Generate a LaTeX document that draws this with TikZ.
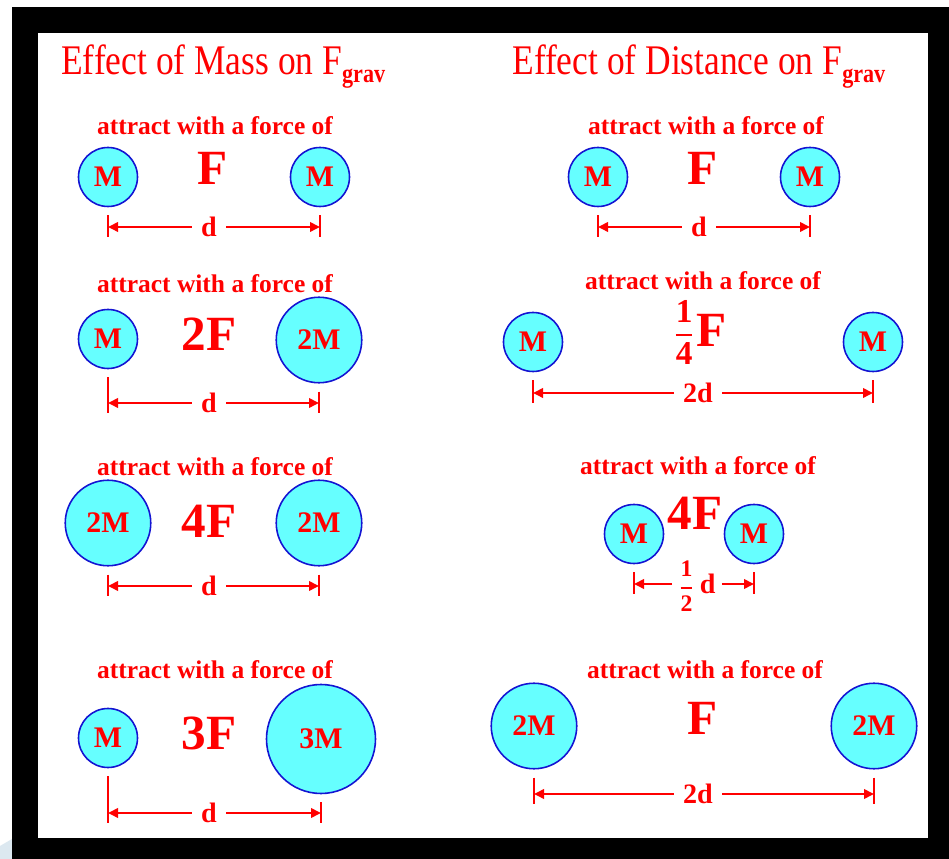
\documentclass[tikz,border=0pt]{standalone}
\usepackage{amsmath}
\usepackage{fontspec}
\setmainfont{Liberation Serif}
\usetikzlibrary{arrows.meta,calc}
\definecolor{massfill}{HTML}{66FFFF}
\definecolor{massedge}{HTML}{1414D2}
\definecolor{gravred}{HTML}{FF0000}
\definecolor{cornerblue}{HTML}{DCE8F0}
\begin{document}
\begin{tikzpicture}[x=0.2mm, y=-0.2mm,
  mass/.style={circle, draw=massedge, fill=massfill, line width=0.9pt, inner sep=0pt,
    text=gravred, font=\fontsize{17}{17}\selectfont\bfseries},
  small/.style={mass, minimum size=11.8mm},
  medium/.style={mass, minimum size=17.1mm},
  large/.style={mass, minimum size=21.8mm},
  force/.style={text=gravred, inner sep=0pt, font=\fontsize{28}{28}\selectfont\bfseries},
  attract/.style={text=gravred, inner sep=0pt, font=\fontsize{14.5}{14.5}\selectfont\bfseries},
  heading/.style={text=gravred, inner sep=0pt, anchor=base west, font=\fontsize{24}{24}\selectfont},
  dist/.style={text=gravred, anchor=base, inner ysep=0pt, inner xsep=1.8mm,
    font=\fontsize{16}{16}\selectfont\bfseries},
  dimline/.style={draw=gravred, line width=1.1pt, -{Triangle[length=2mm, width=1.9mm]}},
  tick/.style={draw=gravred, line width=1.1pt}
]
  \useasboundingbox (0,0) rectangle (949,859);
  % frame
  \fill[white] (0,0) rectangle (949,859);
  \fill[cornerblue] (0,846) -- (12,839) -- (12,859) -- (0,859) -- cycle;
  \fill[black] (12,7) rectangle (949,859);
  \fill[white] (38,33) rectangle (928,838);

  % headings
  \node[heading] (h1) at (61,75) {\scalebox{0.84}[1]{Effect of Mass on F\raisebox{-4pt}{\fontsize{15}{15}\selectfont\bfseries grav}}};
  \node[heading] (h2) at (512,75) {\scalebox{0.84}[1]{Effect of Distance on F\raisebox{-4pt}{\fontsize{15}{15}\selectfont\bfseries grav}}};

  % Effect of mass
  \node[attract] (a1) at (215,126) {attract with a force of};
  \node[small] (ma1) at (108,177) {M};
  \node[small] (mb1) at (320,177) {M};
  \node[force] (f1) at (213,168) {F};
  \node[dist] (d1) at (209,237) {d};

  \node[attract] (a2) at (215,284) {attract with a force of};
  \node[small] (ma2) at (108,339) {M};
  \node[medium] (mb2) at (319,340) {2M};
  \node[force] (f2) at (209,334) {2F};
  \node[dist] (d2) at (209,413) {d};

  \node[attract] (a3) at (215,467) {attract with a force of};
  \node[medium] (ma3) at (108,523) {2M};
  \node[medium] (mb3) at (319,523) {2M};
  \node[force] (f3) at (209,521) {4F};
  \node[dist] (d3) at (209,596) {d};

  \node[attract] (a4) at (215,670) {attract with a force of};
  \node[small] (ma4) at (108,738) {M};
  \node[large] (mb4) at (321,739) {3M};
  \node[force] (f4) at (209,733) {3F};
  \node[dist] (d4) at (209,823) {d};

  % Effect of distance
  \node[attract] (a5) at (706,126) {attract with a force of};
  \node[small] (ma5) at (598,177) {M};
  \node[small] (mb5) at (810,177) {M};
  \node[force] (f5) at (703,168) {F};
  \node[dist] (d5) at (699,237) {d};

  \node[attract] (a6) at (703,281) {attract with a force of};
  \node[small] (ma6) at (533,342) {M};
  \node[small] (mb6) at (873,342) {M};
  \node[force, anchor=base] (f6) at (700,347)
    {{\fontsize{19}{19}\selectfont\raisebox{2.5pt}{$\genfrac{}{}{1.2pt}{0}{\hbox{1}}{\hbox{4}}$}}\kern1pt F};
  \node[dist] (d6) at (698,403) {2d};

  \node[attract] (a7) at (698,466) {attract with a force of};
  \node[small] (ma7) at (634,534) {M};
  \node[small] (mb7) at (754,534) {M};
  \node[force] (f7) at (695,513) {4F};
  \node[dist, inner xsep=1.2mm] (d7) at (697,594)
    {{\fontsize{13.5}{13.5}\selectfont$\genfrac{}{}{1.1pt}{0}{\hbox{1}}{\hbox{2}}$}\kern3pt d};

  \node[attract] (a8) at (705,670) {attract with a force of};
  \node[medium] (ma8) at (534,726) {2M};
  \node[medium] (mb8) at (874,726) {2M};
  \node[force] (f8) at (703,718) {F};
  \node[dist] (d8) at (698,804) {2d};

  % distance markers
  \foreach \row in {1,...,8}{
    \coordinate (ea\row) at ($(ma\row |- d\row.base)+(0,-10)$);
    \coordinate (eb\row) at ($(mb\row |- d\row.base)+(0,-10)$);
    \draw[tick] ($(ma\row.south)+(0,8)$) -- ($(ea\row)+(0,10)$);
    \draw[tick] ($(mb\row.south)+(0,8)$) -- ($(eb\row)+(0,10)$);
    \draw[dimline] (d\row.west |- ea\row) -- (ea\row);
    \draw[dimline] (d\row.east |- eb\row) -- (eb\row);
  }
\end{tikzpicture}
\end{document}
